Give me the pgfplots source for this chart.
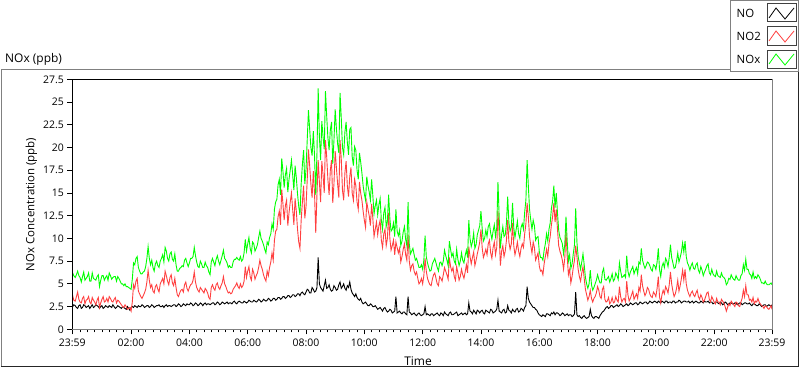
\documentclass[border=0pt]{standalone}
\usepackage{fontspec}
\setmainfont{Open Sans}
\usepackage{pgfplots}
\usepackage{pgfplotstable}
\pgfplotsset{compat=1.18}
\definecolor{noxgreen}{RGB}{0,255,0}
\definecolor{no2red}{RGB}{255,64,64}

\pgfplotstableread{
m NO NO2 NOx
-1 2.4 3.9 6.3
2 2.7 3.2 5.9
5 2.6 3.1 5.7
7.5 2.4 3.6 6.0
10 2.3 4.1 6.4
12.5 2.6 3.3 5.9
15 2.7 3.0 5.7
17.5 2.3 2.9 5.2
20 2.4 3.4 5.8
22.5 2.7 3.6 6.3
25 2.6 2.8 5.4
27.5 2.4 3.2 5.6
30 2.5 3.3 5.8
32.5 2.6 3.6 6.2
35 2.3 3.0 5.3
37.5 2.5 2.8 5.3
40 2.7 3.5 6.2
42.5 2.4 3.2 5.6
45 2.5 3.0 5.5
47.5 2.7 2.7 5.4
50 2.6 3.2 5.8
52.5 2.5 3.5 6.0
55 2.3 2.4 4.7
57.5 2.5 2.9 5.4
60 2.6 3.3 5.9
62.5 2.3 3.6 5.9
65 2.4 3.0 5.4
67.5 2.6 3.1 5.7
70 2.5 3.4 5.9
72.5 2.4 3.0 5.4
75 2.6 3.6 6.2
77.5 2.5 3.4 5.9
80 2.4 3.1 5.5
82.5 2.7 3.0 5.7
85 2.5 3.3 5.8
87.5 2.3 3.5 5.8
90 2.4 2.9 5.3
92.5 2.6 3.2 5.8
95 2.5 3.1 5.6
97.5 2.4 2.9 5.3
100 2.3 2.7 5.0
102.5 2.5 2.5 5.0
105 2.4 2.4 4.8
107.5 2.3 2.7 5.0
110 2.2 2.5 4.7
112.5 2.5 2.2 4.7
115 2.3 2.3 4.6
117.5 2.1 2.4 4.5
120 2.4 2.0 4.4
122.5 2.5 3.0 5.5
125 2.4 4.9 7.3
127.5 2.6 4.5 7.1
130 2.5 5.3 7.8
132.5 2.4 5.6 8.0
135 2.6 4.2 6.8
137.5 2.5 3.9 6.4
140 2.5 3.6 6.1
142.5 2.7 3.4 6.1
145 2.6 3.7 6.3
147.5 2.4 4.0 6.4
150 2.5 4.4 6.9
152.5 2.6 5.2 7.8
155 2.6 6.5 9.1
157.5 2.4 5.4 7.8
160 2.5 4.6 7.1
162.5 2.7 4.9 7.6
165 2.6 4.2 6.8
167.5 2.4 4.0 6.4
170 2.5 4.7 7.2
172.5 2.6 4.9 7.5
175 2.6 4.4 7.0
177.5 2.7 4.1 6.8
180 2.5 5.0 7.5
182.5 2.5 5.3 7.8
185 2.6 5.6 8.2
187.5 2.4 5.0 7.4
190 2.6 6.4 9.0
192.5 2.7 5.9 8.6
195 2.5 5.3 7.8
197.5 2.6 4.9 7.5
200 2.6 5.7 8.3
202.5 2.5 6.0 8.5
205 2.6 5.1 7.7
207.5 2.7 4.8 7.5
210 2.7 5.6 8.3
212.5 2.5 4.6 7.1
215 2.6 3.8 6.4
217.5 2.8 3.6 6.4
220 2.7 4.0 6.7
222.5 2.5 4.3 6.8
225 2.6 4.4 7.0
227.5 2.8 4.1 6.9
230 2.7 4.9 7.6
232.5 2.6 5.2 7.8
235 2.8 4.5 7.3
237.5 2.7 4.2 6.9
240 2.7 4.6 7.3
242.5 2.9 4.9 7.8
245 2.8 5.0 7.8
247.5 2.6 5.4 8.0
250 2.7 6.3 9.0
252.5 2.9 5.2 8.1
255 2.8 4.6 7.4
257.5 2.6 4.3 6.9
260 2.7 4.1 6.8
262.5 2.9 4.6 7.5
265 2.8 4.4 7.2
267.5 2.6 4.2 6.8
270 2.8 4.0 6.8
272.5 2.9 4.5 7.4
275 2.7 4.3 7.0
277.5 2.8 4.0 6.8
280 2.8 3.5 6.3
282.5 2.7 3.3 6.0
285 2.8 4.6 7.4
287.5 2.9 4.9 7.8
290 2.9 4.5 7.4
292.5 2.7 4.3 7.0
295 2.8 4.9 7.7
297.5 3.0 5.1 8.1
300 2.9 4.6 7.5
302.5 2.7 4.4 7.1
305 2.8 4.8 7.6
307.5 3.0 5.1 8.1
310 2.9 5.8 8.7
312.5 2.8 5.0 7.8
315 2.9 4.7 7.6
317.5 3.0 4.3 7.3
320 2.8 4.0 6.8
322.5 2.9 4.1 7.0
325 2.9 3.9 6.8
327.5 2.8 4.0 6.8
330 3.0 4.4 7.4
332.5 3.1 4.6 7.7
335 2.9 4.8 7.7
337.5 2.8 5.1 7.9
340 3.0 4.7 7.7
342.5 3.1 4.5 7.6
345 3.0 5.0 8.0
347.5 2.9 4.6 7.5
350 2.9 4.8 7.7
352.5 3.1 5.3 8.4
355 3.0 6.9 9.9
357.5 2.9 5.7 8.6
360 3.0 6.4 9.4
362.5 3.2 6.9 10.1
365 3.1 5.8 8.9
367.5 3.0 5.4 8.4
370 3.0 6.6 9.6
372.5 3.2 6.2 9.4
375 3.1 5.5 8.6
377.5 3.0 5.9 8.9
380 3.1 6.2 9.3
382.5 3.3 6.8 10.1
385 3.2 7.6 10.8
387.5 3.0 7.0 10.0
390 3.1 6.6 9.7
392.5 3.3 6.0 9.3
395 3.2 5.6 8.8
397.5 3.1 5.3 8.4
400 3.2 6.4 9.6
402.5 3.4 5.9 9.3
405 3.3 6.8 10.1
407.5 3.1 7.4 10.5
410 3.2 8.4 11.6
412.5 3.4 7.6 11.0
415 3.4 9.8 13.2
417.5 3.2 10.8 14.0
420 3.3 11.0 14.3
422.5 3.5 12.4 15.9
425 3.5 13.0 16.5
427.5 3.3 11.5 14.8
430 3.4 15.4 18.8
432.5 3.6 13.8 17.4
435 3.6 12.0 15.6
437.5 3.4 13.6 17.0
440 3.5 14.2 17.7
442.5 3.7 11.4 15.1
445 3.7 12.8 16.5
447.5 3.5 14.0 17.5
450 3.6 15.0 18.6
452.5 3.8 13.2 17.0
455 3.8 11.5 15.3
457.5 3.6 14.4 18.0
460 3.7 13.0 16.7
462.5 3.9 11.0 14.9
465 3.9 9.6 13.5
467.5 3.7 8.9 12.6
470 4.0 12.0 16.0
472.5 4.1 14.0 18.1
475 3.9 15.8 19.7
477.5 3.8 12.2 16.0
480 4.1 13.5 17.6
482.5 4.4 16.5 20.9
485 4.3 19.8 24.1
487.5 4.0 18.0 22.0
490 4.0 16.0 20.0
492.5 4.6 14.5 19.1
495 4.4 17.4 21.8
497.5 4.1 15.0 19.1
500 4.2 10.6 14.8
502.5 4.6 14.8 19.4
505 7.9 18.6 26.5
507.5 5.0 16.2 21.2
510 4.6 14.0 18.6
512.5 4.4 18.5 22.9
515 4.2 17.0 21.2
517.5 4.8 15.0 19.8
520 5.4 20.8 26.2
522.5 4.5 19.0 23.5
525 4.6 16.5 21.1
527.5 4.9 14.8 19.7
530 4.4 17.5 21.9
532.5 4.2 18.6 22.8
535 4.3 13.9 18.2
537.5 4.8 16.0 20.8
540 4.6 19.6 24.2
542.5 4.3 17.8 22.1
545 4.4 16.0 20.4
547.5 4.9 14.5 19.4
550 5.2 20.8 26.0
552.5 4.5 18.8 23.3
555 4.7 15.3 20.0
557.5 5.0 14.2 19.2
560 4.5 17.2 21.7
562.5 4.3 18.5 22.8
565 4.8 15.8 20.6
567.5 4.6 14.6 19.2
570 5.2 16.8 22.0
572.5 4.4 17.8 22.2
575 4.0 15.0 19.0
577.5 3.8 14.2 18.0
580 3.6 16.5 20.1
582.5 3.9 15.8 19.7
585 3.5 14.0 17.5
587.5 3.3 13.2 16.5
590 3.2 16.2 19.4
592.5 3.4 15.0 18.4
595 3.0 14.2 17.2
597.5 2.8 13.0 15.8
600 2.9 12.0 14.9
602.5 3.0 11.2 14.2
605 2.8 14.0 16.8
607.5 2.6 13.2 15.8
610 2.6 12.5 15.1
612.5 2.8 11.4 14.2
615 2.7 13.8 16.5
617.5 2.5 12.2 14.7
620 2.5 10.2 12.7
622.5 2.6 11.0 13.6
625 2.4 11.8 14.2
627.5 2.2 10.4 12.6
630 2.3 11.4 13.7
632.5 2.4 12.0 14.4
635 2.2 9.8 12.0
637.5 2.0 9.0 11.0
640 2.3 10.5 12.8
642.5 2.4 11.0 13.4
645 2.1 9.2 11.3
647.5 1.9 10.0 11.9
650 2.0 12.8 14.8
652.5 2.2 10.0 12.2
655 2.1 8.7 10.8
657.5 1.8 9.2 11.0
660 1.9 9.8 11.7
662.5 2.0 8.2 10.2
665 3.6 9.6 13.2
667.5 1.8 9.0 10.8
670 1.9 8.4 10.3
672.5 2.0 8.9 10.9
675 1.8 7.4 9.2
677.5 1.7 8.0 9.7
680 1.9 8.8 10.7
682.5 1.9 9.4 11.3
685 1.7 8.2 9.9
687.5 1.6 7.6 9.2
690 3.6 10.4 14.0
692.5 1.9 7.5 9.4
695 1.8 6.5 8.3
697.5 1.6 7.0 8.6
700 1.7 7.2 8.9
702.5 1.8 6.4 8.2
705 1.6 6.0 7.6
707.5 1.5 6.3 7.8
710 1.7 5.6 7.3
712.5 1.8 5.0 6.8
715 1.6 5.2 6.8
717.5 1.5 5.6 7.1
720 1.6 5.0 6.6
722.5 1.7 5.9 7.6
725 2.5 7.8 10.3
727.5 1.6 6.4 8.0
730 1.7 5.6 7.3
732.5 1.6 5.2 6.8
735 1.5 4.9 6.4
737.5 1.7 4.8 6.5
740 1.7 5.5 7.2
742.5 1.5 6.0 7.5
745 1.6 6.2 7.8
747.5 1.7 5.6 7.3
750 1.8 5.0 6.8
752.5 1.6 4.8 6.4
755 1.5 5.8 7.3
757.5 1.8 5.6 7.4
760 1.7 5.3 7.0
762.5 1.5 6.0 7.5
765 1.9 6.8 8.7
767.5 1.7 6.4 8.1
770 1.6 6.0 7.6
772.5 1.5 5.5 7.0
775 1.8 7.9 9.7
777.5 1.9 6.9 8.8
780 1.6 6.4 8.0
782.5 1.6 6.8 8.4
785 1.7 5.8 7.5
787.5 1.8 5.4 7.2
790 1.9 6.9 8.8
792.5 1.5 6.2 7.7
795 1.6 5.4 7.0
797.5 1.7 5.8 7.5
800 1.8 6.6 8.4
802.5 1.6 6.0 7.6
805 1.7 5.6 7.3
807.5 1.8 6.3 8.1
810 1.6 7.1 8.7
812.5 1.7 6.2 7.9
815 2.9 9.1 12.0
817.5 2.0 8.0 10.0
820 1.9 7.2 9.1
822.5 1.7 7.9 9.6
825 2.1 8.5 10.6
827.5 1.9 7.0 8.9
830 1.7 7.6 9.3
832.5 2.1 8.3 10.4
835 2.0 8.9 10.9
837.5 1.8 9.6 11.4
840 2.0 11.0 13.0
842.5 2.1 9.0 11.1
845 1.8 7.9 9.7
847.5 1.7 8.3 10.0
850 2.1 8.8 10.9
852.5 2.0 8.2 10.2
855 1.9 9.4 11.3
857.5 1.8 9.8 11.6
860 2.2 8.4 10.6
862.5 2.1 7.8 9.9
865 1.8 9.0 10.8
867.5 1.9 9.6 11.5
870 2.0 8.2 10.2
872.5 2.2 9.0 11.2
875 3.2 13.0 16.2
877.5 2.0 10.4 12.4
880 1.9 7.0 8.9
882.5 1.8 8.6 10.4
885 2.1 9.2 11.3
887.5 2.2 8.0 10.2
890 1.8 8.6 10.4
892.5 1.9 9.8 11.7
895 2.6 12.0 14.6
897.5 2.1 9.6 11.7
900 2.0 8.8 10.8
902.5 1.8 9.4 11.2
905 2.2 11.7 13.9
907.5 2.0 9.2 11.2
910 1.9 8.2 10.1
912.5 2.2 8.8 11.0
915 2.3 9.6 11.9
917.5 1.9 8.6 10.5
920 2.0 8.0 10.0
922.5 2.3 8.9 11.2
925 2.2 9.4 11.6
927.5 2.0 9.0 11.0
930 2.4 10.5 12.9
932.5 2.6 11.6 14.2
935 4.7 13.9 18.6
937.5 3.4 12.4 15.8
940 3.0 10.2 13.2
942.5 2.8 9.2 12.0
945 2.6 8.4 11.0
947.5 2.4 9.6 12.0
950 2.4 9.0 11.4
952.5 2.2 7.6 9.8
955 2.1 8.0 10.1
957.5 1.8 8.4 10.2
960 1.6 7.0 8.6
962.5 1.5 6.4 7.9
965 1.4 6.5 7.9
967.5 1.6 6.0 7.6
970 1.5 7.2 8.7
972.5 1.4 8.0 9.4
975 1.7 8.8 10.5
977.5 1.7 8.0 9.7
980 1.6 9.4 11.0
982.5 1.5 10.2 11.7
985 1.8 11.5 13.3
987.5 1.7 12.4 14.1
990 1.9 13.9 15.8
992.5 1.6 11.8 13.4
995 1.8 13.2 15.0
997.5 1.8 11.0 12.8
1000 1.7 9.2 10.9
1002.5 1.5 8.6 10.1
1005 1.6 8.2 9.8
1007.5 1.8 7.6 9.4
1010 1.7 6.6 8.3
1012.5 1.5 7.8 9.3
1015 1.6 10.8 12.4
1017.5 1.7 8.0 9.7
1020 1.5 6.0 7.5
1022.5 1.6 6.6 8.2
1025 1.6 5.1 6.7
1027.5 1.4 5.8 7.2
1030 1.5 6.8 8.3
1032.5 1.7 7.6 9.3
1035 4.1 9.2 13.3
1037.5 1.6 8.0 9.6
1040 1.4 6.6 8.0
1042.5 1.5 5.8 7.3
1045 1.3 5.3 6.6
1047.5 1.2 6.2 7.4
1050 1.4 6.9 8.3
1052.5 1.5 5.6 7.1
1055 1.3 4.4 5.7
1057.5 1.2 3.8 5.0
1060 1.3 3.2 4.5
1062.5 1.4 3.6 5.0
1065 2.2 4.3 6.5
1067.5 1.5 3.4 4.9
1070 1.3 3.0 4.3
1072.5 1.2 3.4 4.6
1075 1.4 3.6 5.0
1077.5 1.4 4.0 5.4
1080 1.3 4.7 6.0
1082.5 1.2 4.3 5.5
1085 1.5 3.6 5.1
1087.5 1.7 3.4 5.1
1090 1.9 4.4 6.3
1092.5 2.0 4.7 6.7
1095 2.2 3.3 5.5
1097.5 2.4 3.0 5.4
1100 2.5 3.1 5.6
1102.5 2.3 3.5 5.8
1105 2.4 2.8 5.2
1107.5 2.6 3.0 5.6
1110 2.6 3.5 6.1
1112.5 2.4 2.9 5.3
1115 2.5 3.0 5.5
1117.5 2.6 3.6 6.2
1120 2.7 3.2 5.9
1122.5 2.5 3.0 5.5
1125 2.6 4.7 7.3
1127.5 2.8 3.6 6.4
1130 2.7 3.0 5.7
1132.5 2.5 3.3 5.8
1135 2.6 3.4 6.0
1137.5 2.7 3.0 5.7
1140 2.8 5.3 8.1
1142.5 2.6 3.8 6.4
1145 2.7 3.1 5.8
1147.5 2.9 3.4 6.3
1150 2.8 3.8 6.6
1152.5 2.7 4.2 6.9
1155 2.8 3.3 6.1
1157.5 2.9 3.6 6.5
1160 2.9 3.9 6.8
1162.5 2.7 3.4 6.1
1165 2.8 4.6 7.4
1167.5 3.0 4.2 7.2
1170 2.9 6.0 8.9
1172.5 2.8 4.8 7.6
1175 2.9 4.2 7.1
1177.5 3.0 3.7 6.7
1180 3.0 4.0 7.0
1182.5 2.8 4.6 7.4
1185 2.9 4.4 7.3
1187.5 3.1 3.9 7.0
1190 3.0 3.6 6.6
1192.5 2.9 3.5 6.4
1195 3.0 4.1 7.1
1197.5 3.1 3.9 7.0
1200 3.0 3.6 6.6
1202.5 2.9 4.5 7.4
1205 3.1 5.8 8.9
1207.5 3.0 3.6 6.6
1210 2.9 2.9 5.8
1212.5 3.1 3.8 6.9
1215 3.0 4.3 7.3
1217.5 2.9 3.9 6.8
1220 3.1 4.7 7.8
1222.5 3.1 4.4 7.5
1225 2.9 4.0 6.9
1227.5 3.0 4.9 7.9
1230 3.0 6.3 9.3
1232.5 2.9 5.0 7.9
1235 3.1 4.2 7.3
1237.5 3.1 3.6 6.7
1240 2.9 3.9 6.8
1242.5 3.0 4.5 7.5
1245 3.0 5.4 8.4
1247.5 3.2 4.2 7.4
1250 3.1 4.8 7.9
1252.5 2.9 5.6 8.5
1255 3.0 6.5 9.5
1257.5 3.1 5.4 8.5
1260 3.1 6.6 9.7
1262.5 3.0 5.0 8.0
1265 3.0 4.3 7.3
1267.5 3.1 3.9 7.0
1270 2.9 3.6 6.5
1272.5 3.0 4.0 7.0
1275 3.1 4.2 7.3
1277.5 2.9 3.8 6.7
1280 3.0 3.6 6.6
1282.5 3.1 4.0 7.1
1285 3.0 4.3 7.3
1287.5 2.9 3.6 6.5
1290 2.9 3.3 6.2
1292.5 3.1 3.8 6.9
1295 3.0 3.5 6.5
1297.5 2.9 3.0 5.9
1300 3.1 3.2 6.3
1302.5 3.0 3.6 6.6
1305 3.0 4.0 7.0
1307.5 3.1 4.1 7.2
1310 2.9 3.3 6.2
1312.5 3.0 3.0 6.0
1315 3.0 3.6 6.6
1317.5 2.8 3.3 6.1
1320 2.9 3.0 5.9
1322.5 3.0 2.8 5.8
1325 3.0 3.4 6.4
1327.5 2.9 3.0 5.9
1330 2.8 3.0 5.8
1332.5 3.0 2.7 5.7
1335 2.9 3.3 6.2
1337.5 2.7 3.1 5.8
1340 2.8 2.9 5.7
1342.5 3.0 2.5 5.5
1345 2.9 2.0 4.9
1347.5 2.7 2.4 5.1
1350 2.8 2.8 5.6
1352.5 2.9 2.6 5.5
1355 2.9 3.1 6.0
1357.5 2.8 2.9 5.7
1360 2.8 2.7 5.5
1362.5 2.9 2.5 5.4
1365 2.9 3.0 5.9
1367.5 2.7 2.9 5.6
1370 2.8 2.6 5.4
1372.5 2.9 2.5 5.4
1375 2.9 3.0 5.9
1377.5 2.7 3.4 6.1
1380 2.8 4.3 7.1
1382.5 2.9 3.6 6.5
1385 2.9 4.8 7.7
1387.5 2.8 3.8 6.6
1390 2.8 3.8 6.6
1392.5 2.9 3.2 6.1
1395 2.7 3.3 6.0
1397.5 2.6 3.0 5.6
1400 2.8 3.5 6.3
1402.5 2.8 2.8 5.6
1405 2.7 3.1 5.8
1407.5 2.6 3.0 5.6
1410 2.6 3.4 6.0
1412.5 2.8 3.0 5.8
1415 2.7 2.8 5.5
1417.5 2.5 2.6 5.1
1420 2.6 2.5 5.1
1422.5 2.7 2.3 5.0
1425 2.7 2.6 5.3
1427.5 2.5 2.5 5.0
1430 2.6 2.3 4.9
1432.5 2.7 2.2 4.9
1435 2.6 2.4 5.0
1437 2.5 2.6 5.1
1439 2.7 2.2 4.9
}\datatab

\begin{document}
\begin{tikzpicture}[x=1bp,y=1bp]
\useasboundingbox (0,0) rectangle (800,369);
% outer panel
\draw[gray, line width=1bp] (1,2.5) -- (1,300) -- (730.5,300);
\draw[black!85, line width=1bp] (1,2.5) -- (798.5,2.5) -- (798.5,297.5);
% caption
\node[anchor=west, inner sep=0pt, font=\fontsize{12}{14}\selectfont] at (5,310) {NOx (ppb)};
% legend
\draw[gray, line width=1bp] (730.5,297.5) rectangle (798.5,368.5);
\node[anchor=west, inner sep=0pt, font=\fontsize{11.5}{13}\selectfont] at (736.5,356) {NO};
\node[anchor=west, inner sep=0pt, font=\fontsize{11.5}{13}\selectfont] at (736.5,333) {NO2};
\node[anchor=west, inner sep=0pt, font=\fontsize{11.5}{13}\selectfont] at (736.5,310) {NOx};
\draw[black!75, fill=white, line width=1bp] (767,347) rectangle (796,365);
\draw[black!75, fill=white, line width=1bp] (767,324) rectangle (796,342);
\draw[black!75, fill=white, line width=1bp] (767,301) rectangle (796,319);
\draw[black, line width=0.8bp] (769,351) -- (776,361) -- (785,350) -- (794,361);
\draw[no2red, line width=0.8bp] (769,328) -- (776,338) -- (785,327) -- (794,338);
\draw[noxgreen, line width=0.8bp] (769,305) -- (776,315) -- (785,304) -- (794,315);
% y label
\node[rotate=90, inner sep=0pt, font=\fontsize{11.5}{13}\selectfont] at (31.5,164.5) {NOx Concentration (ppb)};
\node[inner sep=0pt, font=\fontsize{12}{14}\selectfont] at (418,8) {Time};
\begin{axis}[
  name=ax,
  at={(72.3bp,39.7bp)}, anchor=south west,
  scale only axis, width=699.7bp, height=250bp,
  xmin=-1, xmax=1439, ymin=0, ymax=27.5,
  axis line style={draw=none},
  xtick={-1,120,240,360,480,600,720,840,960,1080,1200,1320,1439},
  xticklabels={23:59,02:00,04:00,06:00,08:00,10:00,12:00,14:00,16:00,18:00,20:00,22:00,23:59},
  minor xtick={15,30,...,1425},
  ytick={0,2.5,5,7.5,10,12.5,15,17.5,20,22.5,25,27.5},
  yticklabels={0,2.5,5,7.5,10,12.5,15,17.5,20,22.5,25,27.5},
  xtick pos=bottom, ytick pos=left,
  tick align=outside,
  major tick length=5bp, minor tick length=3bp,
  tick style={black, line width=0.8bp},
  ticklabel style={font=\fontsize{10.5}{12}\selectfont},
  xticklabel style={yshift=-1bp},
  every axis plot/.append style={line width=0.9bp},
]
\addplot[black] table[x=m,y=NO]{\datatab};
\addplot[no2red] table[x=m,y=NO2]{\datatab};
\addplot[noxgreen] table[x=m,y=NOx]{\datatab};
\end{axis}
\draw[black, line width=1bp] (ax.south west) -- (ax.north west) -- (ax.north east);
\draw[gray, line width=1bp] (ax.north east) -- (ax.south east) -- (ax.south west);
\end{tikzpicture}
\end{document}
